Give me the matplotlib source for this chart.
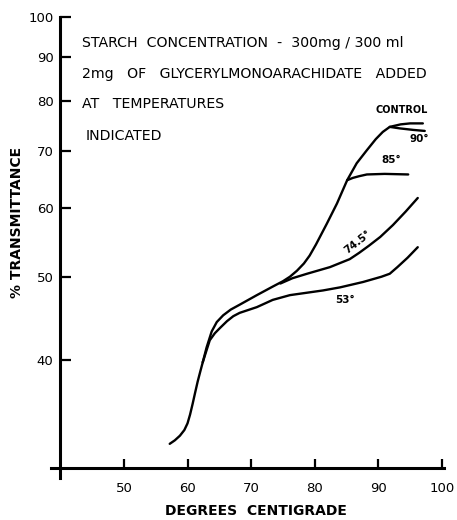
import numpy as np
import matplotlib.pyplot as plt
from matplotlib.ticker import FixedLocator, NullLocator

# shared rise of all curves (degrees C, % transmittance)
base_x = [57.2, 58.0, 58.8, 59.5, 60.0, 60.4, 60.8, 61.2, 61.6, 62.0, 62.4]
base_y = [32.0, 32.3, 32.7, 33.2, 33.8, 34.6, 35.6, 36.7, 37.8, 38.8, 39.8]

# control curve beyond the shared rise
ctrl_x = [62.4, 63.0, 63.8, 64.6, 65.6, 66.8, 68.2, 70.9, 73.4, 75.0, 76.1, 77.2,
          78.3, 79.2, 80.2, 81.9, 83.5, 85.1, 86.6, 88.2, 89.6, 90.7, 91.8, 93.5,
          95.0, 97.0]
ctrl_y = [39.8, 41.4, 43.2, 44.3, 45.1, 45.8, 46.4, 47.6, 48.7, 49.4, 50.0, 50.8,
          51.8, 52.9, 54.5, 57.6, 60.8, 64.7, 67.7, 70.1, 72.2, 73.6, 74.6, 75.1,
          75.3, 75.3]

# branches leaving the control curve
t90_x = [91.8, 93.4, 95.5, 97.3]
t90_y = [74.6, 74.3, 74.0, 73.8]
t85_x = [85.1, 86.0, 87.0, 88.2, 91.0, 94.7]
t85_y = [64.7, 65.1, 65.4, 65.7, 65.8, 65.7]
t745_x = [74.6, 76.5, 78.8, 82.4, 85.5, 87.0, 88.5, 90.3, 92.3, 94.3, 96.2]
t745_y = [49.1, 49.8, 50.4, 51.3, 52.4, 53.3, 54.3, 55.6, 57.4, 59.5, 61.7]
t53_x = [62.4, 63.0, 63.5, 64.3, 65.1, 66.2, 67.2, 68.2, 70.9, 73.4, 76.1,
         81.3, 84.0, 87.6, 90.5, 91.8, 93.0, 94.6, 96.2]
t53_y = [39.8, 41.1, 42.2, 43.0, 43.6, 44.4, 45.0, 45.4, 46.1, 47.0, 47.6,
         48.2, 48.6, 49.3, 50.0, 50.4, 51.3, 52.6, 54.1]

xticks = [50, 60, 70, 80, 90, 100]
yticks = [40, 50, 60, 70, 80, 90, 100]

fig = plt.figure(figsize=(4.57, 5.2), dpi=100)
ax = fig.add_axes([0.132, 0.1, 0.835, 0.867])

lw = 1.7
ax.plot(base_x, base_y, 'k', lw=lw, solid_capstyle='round')
ax.plot(ctrl_x, ctrl_y, 'k', lw=lw, solid_capstyle='round')
for bx, by in [(t90_x, t90_y), (t85_x, t85_y), (t745_x, t745_y), (t53_x, t53_y)]:
    ax.plot(bx, by, 'k', lw=lw, solid_capstyle='round')

ax.set_yscale('log')
ax.set_xlim(40, 100)
ax.set_ylim(30, 100)
ax.yaxis.set_major_locator(FixedLocator(yticks))
ax.yaxis.set_minor_locator(NullLocator())
ax.set_yticklabels([str(v) for v in yticks])
ax.xaxis.set_major_locator(FixedLocator(xticks))
ax.set_xticklabels([str(v) for v in xticks])

for s in ['top', 'right']:
    ax.spines[s].set_visible(False)
ax.spines['left'].set_linewidth(2.2)
ax.spines['bottom'].set_linewidth(2.2)
ax.spines['bottom'].set_bounds(38.6, 100.4)
ax.spines['left'].set_bounds(29.2, 100)
ax.tick_params(axis='y', direction='in', length=8, width=1.6, labelsize=9.5, pad=5)
ax.tick_params(axis='x', direction='in', length=6.5, width=1.6, labelsize=9.5, pad=10)

fig.text(17/457, 1-222/520, '% TRANSMITTANCE', fontsize=10, fontweight='bold',
         rotation=90, ha='center', va='center')
fig.text(256/457, 1-511/520, 'DEGREES  CENTIGRADE', fontsize=10, fontweight='bold',
         ha='center', va='center')

# header text
hdr = dict(fontsize=10.2, ha='left', va='center', transform=fig.transFigure)
fig.text(82/457, 1-43/520, 'STARCH  CONCENTRATION  -  300mg / 300 ml', **hdr)
fig.text(82/457, 1-74/520, '2mg   OF   GLYCERYLMONOARACHIDATE   ADDED', **hdr)
fig.text(82/457, 1-104/520, 'AT   TEMPERATURES', **hdr)
fig.text(86/457, 1-136/520, 'INDICATED', **hdr)

# curve labels
ax.text(93.7, 78.0, 'CONTROL', fontsize=7, fontweight='bold', ha='center', va='center')
ax.text(96.4, 72.2, '90°', fontsize=7.5, fontweight='bold', ha='center', va='center')
ax.text(92.1, 68.2, '85°', fontsize=7.5, fontweight='bold', ha='center', va='center')
ax.text(86.8, 54.8, '74.5°', fontsize=7.5, fontweight='bold', ha='center', va='center', rotation=38)
ax.text(84.7, 47.0, '53°', fontsize=7.5, fontweight='bold', ha='center', va='center')

fig.savefig('out.png', dpi=100)
